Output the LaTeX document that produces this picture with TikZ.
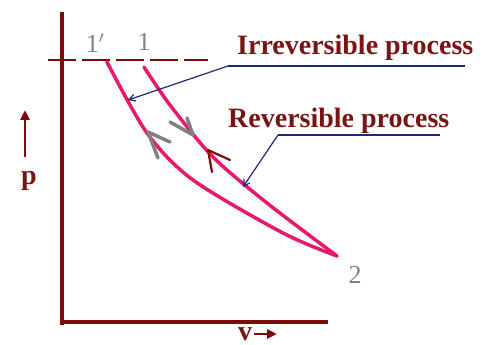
\documentclass[tikz,border=0pt]{standalone}
\usepackage{fontspec}
\setmainfont{Liberation Serif}
\usetikzlibrary{arrows.meta}
\definecolor{axisred}{HTML}{7F0A0A}
\definecolor{txtred}{HTML}{7A1414}
\definecolor{curvepink}{HTML}{E8186F}
\definecolor{leadblue}{HTML}{1E2A78}
\definecolor{markgray}{HTML}{808080}

\begin{document}
\begin{tikzpicture}[x=1pt,y=-1pt,
 axis/.style={axisred, line width=4.5pt},
 curve/.style={curvepink, line width=3.5pt, line cap=round},
 lbl/.style={font=\fontsize{28}{30}\selectfont\bfseries, text=txtred, inner sep=0pt},
 pt/.style={font=\fontsize{26}{28}\selectfont, text=markgray, inner sep=0pt},
 lead/.style={leadblue, line width=1.2pt},
 ptr/.style={lead, -{Straight Barb[length=6pt,width=7pt]}},
 chev/.style={markgray, line width=3.5pt, line cap=round, line join=round},
 dirar/.style={-{Triangle[length=10pt,width=9pt]}, axisred, line width=2.5pt},
]
 \useasboundingbox (0,0) rectangle (483,345);

 % axes and the p = const line
 \coordinate (ytop) at (62,12);
 \coordinate (ybot) at (62,325);
 \coordinate (xbeg) at (60,322);
 \coordinate (xend) at (328,322);
 \draw[axis] (ytop) -- (ybot);
 \draw[axis] (xbeg) -- (xend);
 \coordinate (dashL) at (48,60);
 \coordinate (dashR) at (208,60);
 \draw[axisred, line width=1.5pt, dash pattern=on 28pt off 6pt] (dashL) -- (dashR);

 % state points
 \coordinate (s1p) at (107,62);
 \coordinate (s1) at (144,67);
 \coordinate (s2) at (337,256);
 \node[pt] (n1p) at (95,43) {1$'$};
 \node[pt] (n1) at (144,42) {1};
 \node[pt] (n2) at (355,275) {2};

 % the two processes
 \draw[curve] plot[smooth] coordinates {(s1p) (147,133) (193,180) (283,233) (s2)};
 \draw[curve] plot[smooth] coordinates {(s1) (170,105) (213,157) (267,203) (s2)};

 % direction marks
 \draw[chev] (170,142) -- (148,132) -- (158,158);
 \draw[chev] (170,122) -- (193,135) -- (187,118);
 \draw[chev, axisred, line width=2.2pt] (230,160) -- (208,150) -- (212,172);

 % labels with leaders
 \node[lbl, anchor=base west] (irr) at (237,55) {Irreversible process};
 \node[lbl, anchor=base west] (rev) at (228,128) {Reversible process};
 \coordinate (irrL) at (228,66);
 \coordinate (irrR) at (465,66);
 \coordinate (irrtip) at (128,100);
 \draw[lead] (irrR) -- (irrL);
 \draw[ptr] (irrL) -- (irrtip);
 \coordinate (revL) at (278,135);
 \coordinate (revR) at (440,135);
 \coordinate (revtip) at (243,187);
 \draw[lead] (revR) -- (revL);
 \draw[ptr] (revL) -- (revtip);

 % axis names
 \coordinate (pbot) at (25,157);
 \coordinate (ptop) at (25,110);
 \draw[dirar] (pbot) -- (ptop);
 \node[lbl] (plab) at (29,181) {p};
 \node[lbl, anchor=base] (vlab) at (245,340) {v};
 \coordinate (vbeg) at (254,334);
 \coordinate (vend) at (277,334);
 \draw[dirar] (vbeg) -- (vend);
\end{tikzpicture}
\end{document}
